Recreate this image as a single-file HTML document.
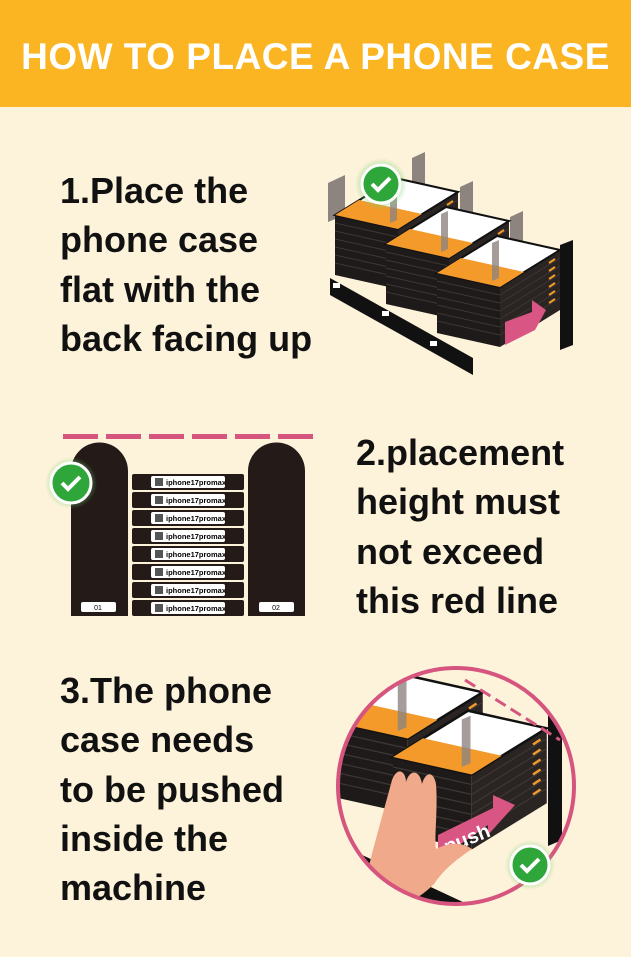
<!DOCTYPE html>
<html><head><meta charset="utf-8"><style>
body{margin:0;width:631px;height:957px;background:#fdf2da;font-family:"Liberation Sans",sans-serif;position:relative;overflow:hidden}
.hd{position:absolute;left:0;top:0;width:631px;height:107px;background:#fbb522;color:#fff;font-weight:bold;font-size:37px;text-align:center;line-height:114px;letter-spacing:0.5px}
.t{position:absolute;font-weight:bold;font-size:36px;line-height:49.3px;color:#111;white-space:nowrap}
svg{position:absolute;left:0;top:0}
</style></head><body>
<div class="hd">HOW TO PLACE A PHONE CASE</div>
<div class="t" style="left:60px;top:166px">1.Place the<br>phone case<br>flat with the<br>back facing up</div>
<div class="t" style="left:356px;top:428px">2.placement<br>height must<br>not exceed<br>this red line</div>
<div class="t" style="left:60px;top:666px">3.The phone<br>case needs<br>to be pushed<br>inside the<br>machine</div>
<svg width="631" height="957" viewBox="0 0 631 957">
<defs>
<radialGradient id="g"><stop offset="0.6" stop-color="#6fd36f" stop-opacity=".6"/><stop offset="1" stop-color="#6fd36f" stop-opacity="0"/></radialGradient>
<g id="u">
<polygon points="0,0 63,14 63,74 0,60" fill="#1d1a19"/>
<polygon points="63,14 123,-23 123,37 63,74" fill="#2a2523"/>
<g stroke="#3d3634" stroke-width="1"><path d="M0 8 63 22M0 16 63 30M0 24 63 38M0 32 63 46M0 40 63 54M0 48 63 62"/><path d="M63 22 123 -15M63 30 123 -7M63 38 123 1M63 46 123 9M63 54 123 17M63 62 123 25"/></g>
<g stroke="#f39a2b" stroke-width="2"><path d="M112 -10l6-4M112 -2l6-4M112 6l6-4M112 14l6-4M112 22l6-4M112 30l6-4"/></g>
<polygon points="0,0 63,14 123,-23 60,-37" fill="#fff" stroke="#111" stroke-width="2"/>
<polygon points="0,0 63,14 87,-1 24,-15" fill="#f39a2b"/>
<polygon points="55,-30 62,-33 62,5 55,8" fill="#8d8480" opacity=".8"/>
</g>
</defs>
<!-- diagram 1 -->
<polygon points="330,278 473,358 473,375 330,295" fill="#111"/>
<polygon points="328,183 345,175 345,215 328,222" fill="#8d8480"/>
<polygon points="412,158 425,152 425,190 412,196" fill="#8d8480"/>
<polygon points="460,187 473,181 473,218 460,224" fill="#8d8480"/>
<polygon points="510,217 523,211 523,248 510,254" fill="#8d8480"/>
<use href="#u" x="335" y="215"/>
<use href="#u" x="386" y="244"/>
<use href="#u" x="437" y="273"/>
<polygon points="560,245 573,240 573,345 560,350" fill="#111"/>
<polygon points="505,322 532,312 532,300 546,310 528,330 528,322 505,332" fill="#d95583"/>
<polygon points="505,328 532,318 546,310 535,330 505,345" fill="#d95583"/>
<g fill="#fff" font-size="6" font-family="Liberation Sans"><rect x="333" y="283" width="7" height="5"/><rect x="382" y="311" width="7" height="5"/><rect x="430" y="341" width="7" height="5"/></g>
<circle cx="381" cy="184" r="26" fill="url(#g)"/>
<circle cx="381" cy="184" r="19" fill="#2ea63a" stroke="#fff" stroke-width="3"/>
<path d="M372 184l6 6 12-12" stroke="#fff" stroke-width="4" fill="none"/>
<!-- diagram 2 -->
<g fill="#d6557f"><rect x="63" y="434" width="35" height="5"/><rect x="106" y="434" width="35" height="5"/><rect x="149" y="434" width="35" height="5"/><rect x="192" y="434" width="35" height="5"/><rect x="235" y="434" width="35" height="5"/><rect x="278" y="434" width="35" height="5"/></g>
<path d="M71 616V471a28 28 0 0 1 57 0V616z" fill="#241a18"/>
<path d="M248 616V471a28 28 0 0 1 57 0V616z" fill="#241a18"/>
<rect x="81" y="602" width="35" height="10" rx="2" fill="#fff"/><text x="98" y="610" font-size="7" text-anchor="middle" font-family="Liberation Sans">01</text>
<rect x="259" y="602" width="35" height="10" rx="2" fill="#fff"/><text x="276" y="610" font-size="7" text-anchor="middle" font-family="Liberation Sans">02</text>
<g font-size="7.5" font-weight="bold" font-family="Liberation Sans">
<g id="r"><rect x="132" y="474" width="112" height="16" rx="2" fill="#241a18"/><rect x="151" y="476" width="74" height="12" rx="2" fill="#fff"/><rect x="155" y="478" width="8" height="8" fill="#555"/><text x="166" y="485">iphone17promax</text></g>
<use href="#r" y="18"/><use href="#r" y="36"/><use href="#r" y="54"/><use href="#r" y="72"/><use href="#r" y="90"/><use href="#r" y="108"/><use href="#r" y="126"/>
</g>
<circle cx="71" cy="483" r="26" fill="url(#g)"/>
<circle cx="71" cy="483" r="20" fill="#2ea63a" stroke="#fff" stroke-width="3"/>
<path d="M62 483l6 6 12-12" stroke="#fff" stroke-width="4" fill="none"/>
<!-- diagram 3 -->
<clipPath id="c"><circle cx="456" cy="786" r="118"/></clipPath>
<g clip-path="url(#c)">
<polygon points="330,840 480,910 480,960 330,900" fill="#111"/>
<g transform="translate(329,721) scale(1.25)"><use href="#u"/></g>
<g transform="translate(393,757) scale(1.25)"><use href="#u"/></g>
<polygon points="548,700 562,694 562,840 548,846" fill="#111"/>
<polygon points="438,835 493,808 493,795 515,805 488,835 488,825 438,860" fill="#d95583"/>
<text x="443" y="848" fill="#fff" font-size="20" font-weight="bold" transform="rotate(-22 460 840)" font-family="Liberation Sans">push</text>
<path d="M360 905c8-40 20-80 32-125 6-15 14-8 14 2 4-14 14-12 16 2 4-14 12-12 14 0 2 25-2 55 0 65 15-8 28-6 36 0-15 10-28 20-38 35-20 20-45 30-74 21z" fill="#f0a98a"/>
</g>
<circle cx="456" cy="786" r="118" fill="none" stroke="#d6557f" stroke-width="4"/>
<line x1="465" y1="680" x2="560" y2="740" stroke="#d6557f" stroke-width="3" stroke-dasharray="12,6"/>
<circle cx="530" cy="865" r="25" fill="url(#g)"/>
<circle cx="530" cy="865" r="19" fill="#2ea63a" stroke="#fff" stroke-width="3"/>
<path d="M521 865l6 6 12-12" stroke="#fff" stroke-width="4" fill="none"/>
</svg>
</body></html>
